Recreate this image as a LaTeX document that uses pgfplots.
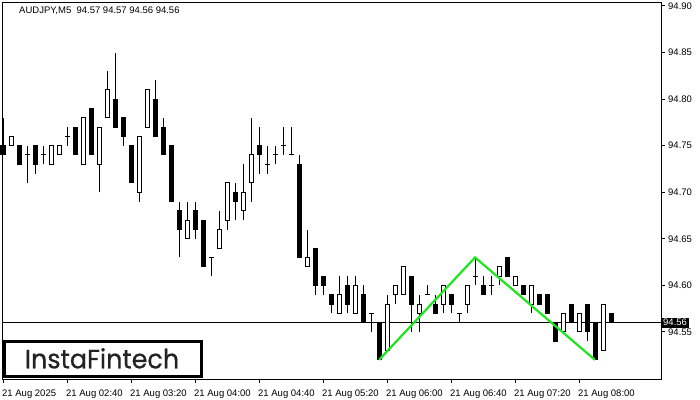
\documentclass[border=0pt]{standalone}
\usepackage{pgfplots}
\usepackage{pgfplotstable}
\pgfplotsset{compat=1.18}
\usepackage{fontspec}
\setmainfont{Liberation Sans}
\newfontfamily\logofont{Poppins}[FakeStretch=0.96, FakeBold=0.6]
\definecolor{patline}{RGB}{30,230,30}
\definecolor{logogray}{RGB}{34,34,34}
\newcommand{\lbl}{\fontsize{9.5bp}{11bp}\selectfont}

% AUDJPY M5, bar index i (5 min each, i=0 is 02:00), open high low close
\pgfplotstableread{
i o h l c
0 94.75 94.78 94.74 94.74
2 94.75 94.75 94.73 94.73
4 94.75 94.75 94.72 94.73
9 94.77 94.77 94.74 94.74
11 94.79 94.79 94.74 94.74
14 94.80 94.85 94.77 94.77
15 94.78 94.78 94.75 94.76
16 94.75 94.75 94.71 94.71
19 94.80 94.82 94.76 94.76
20 94.77 94.78 94.74 94.74
21 94.75 94.75 94.69 94.69
22 94.68 94.69 94.63 94.66
24 94.68 94.69 94.65 94.66
25 94.67 94.67 94.62 94.62
29 94.70 94.71 94.67 94.69
32 94.75 94.77 94.72 94.74
37 94.73 94.74 94.63 94.63
39 94.64 94.64 94.59 94.60
40 94.61 94.61 94.59 94.60
41 94.59 94.59 94.57 94.58
43 94.60 94.61 94.57 94.58
45 94.59 94.60 94.56 94.56
47 94.56 94.56 94.52 94.52
51 94.61 94.61 94.55 94.58
54 94.58 94.59 94.57 94.57
56 94.59 94.59 94.57 94.58
60 94.60 94.61 94.59 94.59
63 94.63 94.63 94.61 94.61
65 94.60 94.60 94.59 94.59
67 94.59 94.59 94.58 94.58
68 94.59 94.59 94.57 94.57
69 94.56 94.56 94.54 94.54
71 94.58 94.58 94.56 94.56
73 94.58 94.58 94.54 94.55
74 94.56 94.56 94.52 94.52
76 94.57 94.57 94.56 94.56
}\bears

\pgfplotstableread{
i o h l c
1 94.75 94.76 94.75 94.76
6 94.73 94.75 94.73 94.75
7 94.74 94.75 94.74 94.75
10 94.73 94.78 94.73 94.78
12 94.73 94.77 94.70 94.77
13 94.78 94.83 94.78 94.81
17 94.70 94.76 94.69 94.76
18 94.77 94.81 94.77 94.81
23 94.65 94.69 94.65 94.67
27 94.64 94.68 94.64 94.66
28 94.67 94.71 94.66 94.71
30 94.68 94.73 94.67 94.70
31 94.71 94.78 94.69 94.74
38 94.62 94.66 94.62 94.63
42 94.57 94.61 94.57 94.59
44 94.57 94.61 94.57 94.60
48 94.53 94.59 94.53 94.58
49 94.59 94.60 94.58 94.60
50 94.59 94.62 94.59 94.62
52 94.57 94.59 94.55 94.58
55 94.58 94.60 94.57 94.60
58 94.58 94.60 94.57 94.60
62 94.61 94.62 94.60 94.62
64 94.60 94.61 94.60 94.61
66 94.58 94.60 94.57 94.60
70 94.55 94.57 94.55 94.57
72 94.55 94.57 94.55 94.57
75 94.53 94.58 94.53 94.58
}\bulls

\pgfplotstableread{
i o h l c
3 94.74 94.75 94.71 94.74
5 94.74 94.75 94.73 94.74
8 94.76 94.77 94.75 94.76
26 94.63 94.63 94.61 94.63
33 94.73 94.75 94.72 94.73
34 94.74 94.75 94.73 94.74
35 94.75 94.77 94.74 94.75
36 94.74 94.77 94.74 94.74
46 94.57 94.57 94.55 94.57
53 94.59 94.60 94.59 94.59
57 94.57 94.57 94.56 94.57
59 94.61 94.63 94.60 94.61
61 94.60 94.61 94.59 94.60
}\dojis

\pgfplotsset{
    wick/.style={draw=none, mark=none,
        error bars/.cd, y dir=plus, y explicit, error mark=none,
        error bar style={draw=black, line width=1bp}},
    body/.style 2 args={draw=none, mark=none,
        error bars/.cd, y dir=plus, y explicit, error mark=none,
        error bar style={draw=#1, line width=#2, line cap=rect, shorten <=2bp, shorten >=2bp}},
}

\begin{document}
\begin{tikzpicture}
\useasboundingbox (0,0) rectangle (700bp,400bp);
\begin{axis}[
    at={(2bp,21bp)}, anchor=south west, scale only axis,
    width=659bp, height=376bp,
    xmin=-0.125, xmax=82.25, ymin=94.4995, ymax=94.9032,
    axis line style={line width=1bp},
    xtick={0,8,...,72},
    xticklabels={21 Aug 2025,21 Aug 02:40,21 Aug 03:20,21 Aug 04:00,21 Aug 04:40,21 Aug 05:20,21 Aug 06:00,21 Aug 06:40,21 Aug 07:20,21 Aug 08:00},
    ytick={94.55,94.60,94.65,94.70,94.75,94.80,94.85,94.90},
    yticklabels={94.55,94.60,94.65,94.70,94.75,94.80,94.85,94.90},
    xtick pos=left, ytick pos=right,
    tick align=outside, major tick length=4bp,
    tick style={black, line width=1bp},
    xticklabel style={font=\lbl, anchor=base west, inner sep=0pt, xshift=-1bp, yshift=-13.7bp},
    yticklabel style={font=\lbl, anchor=west, inner sep=0pt, xshift=3bp},
    clip=false,
]
% bid line
\addplot[black, line width=0.8bp] coordinates {(-0.125,94.56) (82.25,94.56)};
% wicks
\addplot[wick] table[x=i, y=l, y error expr=\thisrow{h}-\thisrow{l}] {\bears};
\addplot[wick] table[x=i, y=l, y error expr=\thisrow{h}-\thisrow{l}] {\bulls};
\addplot[wick] table[x=i, y=l, y error expr=\thisrow{h}-\thisrow{l}] {\dojis};
% bodies: bearish filled, bullish hollow
\addplot[body={black}{5bp}] table[x=i, y=c, y error expr=\thisrow{o}-\thisrow{c}] {\bears};
\addplot[body={black}{5bp}] table[x=i, y=o, y error expr=\thisrow{c}-\thisrow{o}] {\bulls};
\addplot[body={white}{3bp}] table[x=i, y=o, y error expr=\thisrow{c}-\thisrow{o}] {\bulls};
\addplot[only marks, mark=-, mark size=2.5bp, mark options={draw=black, line width=1bp}]
    table[x=i, y=o] {\dojis};
% double bottom pattern
\addplot[patline, line width=2.2bp] coordinates {(47,94.52) (59,94.63) (74,94.52)};
\node[anchor=west, inner sep=0pt, font=\lbl, xshift=17bp, yshift=-8bp] at (rel axis cs:0,1) {AUDJPY,M5\ \ 94.57 94.57 94.56 94.56};
\node[fill=black, text=white, anchor=west, inner xsep=2bp, inner ysep=0pt, minimum height=10bp, font=\lbl] at (axis cs:82.25,94.56) {94.56};
\end{axis}
\draw[line width=3bp, black] (4.5bp,23.5bp) rectangle (201.2bp,58.5bp);
\node[anchor=base, text=logogray, font=\logofont\fontsize{26.5bp}{30bp}\selectfont, inner sep=0pt] at (102bp,31.7bp) {InstaFintech};
\end{tikzpicture}
\end{document}
